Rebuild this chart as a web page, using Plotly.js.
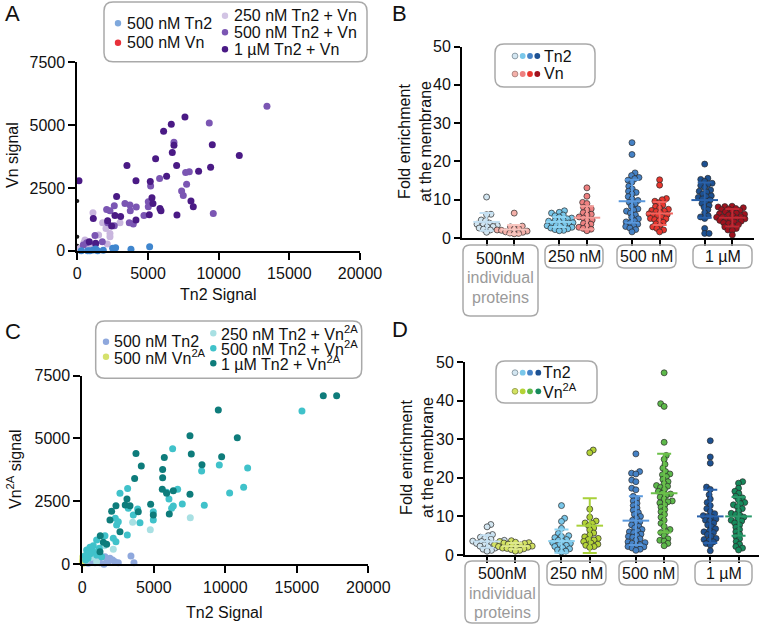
<!DOCTYPE html>
<html>
<head>
<meta charset="utf-8">
<script src="https://cdn.plot.ly/plotly-3.0.1.min.js"></script>
<style>html,body{margin:0;padding:0;background:#fff;}#chart{width:760px;height:626px;}</style>
</head>
<body>
<div id="chart"></div>
<script>
// ---------------- DATA ----------------
// Panel A: Tn2 signal (x) vs Vn signal (y)
const a500Tn2X = [283, 731, 896, 1132, 1297, 1438, 1839, 2500, 2712, 3796, 5117];
const a500Tn2Y = [0, 0, 0, 26, 66, 0, 13, 93, 119, 53, 159];
const a500VnX = [0, 0, 0, 0, 0, 0];
const a500VnY = [1975, 560, 200, 150, 100, 60];
const a250MixX = [1108, 1792, 2028, 2311, 2311, 1509, 2122, 3018, 472, 896, 542, 707, 189];
const a250MixY = [1510, 1113, 888, 689, 556, 623, 265, 1113, 318, 159, 424, 225, 93];
const a500MixX = [13417, 9337, 6838, 5824, 7923, 7664, 7734, 7380, 7498, 9620, 5188, 5023, 5023, 4716, 3725, 3372, 4174, 2075, 2311, 2617, 3749, 3678, 3961, 2146, 2617, 1250, 1769, 424, 1297, 660];
const a500MixY = [5751, 5088, 4320, 2875, 3140, 3114, 2650, 2372, 2200, 1484, 2571, 1948, 1749, 1405, 1815, 1882, 1736, 1643, 1590, 1789, 1590, 1113, 1060, 1113, 994, 610, 358, 225, 265, 318];
const a1uMixX = [118, 7616, 6650, 6107, 6838, 9550, 6720, 5541, 3513, 7027, 11460, 9432, 8583, 6319, 4150, 5164, 2782, 5282, 5353, 5848, 5919, 8041, 8206, 7050, 5093, 3065, 4150, 2664, 1132, 2146, 2429, 849, 1297];
const a1uMixY = [2783, 5327, 5035, 4757, 4200, 4213, 3909, 3657, 3392, 3392, 3790, 3326, 3167, 2968, 2783, 2756, 2160, 2107, 1882, 1683, 1590, 1974, 1749, 1418, 1431, 1365, 1219, 1405, 1285, 1193, 981, 358, 292];

// Panel C: Tn2 signal (x) vs Vn2A signal (y)
const c500Tn2X = [3403, 3613, 1585, 1935, 2284, 2517, 1236, 1515, 886, 1818, 653, 2121, 420, 1119, 1702];
const c500Tn2Y = [331, 66, 304, 238, 106, 66, 66, 0, 66, 106, 106, 172, 40, 198, 198];
const c500VnX = [40, 30, 60, 20];
const c500VnY = [300, 170, 40, 100];
const c250MixX = [7552, 4755, 3520, 1539, 2168, 303, 653, 1002];
const c250MixY = [1852, 1376, 1667, 741, 595, 172, 278, 106];
const c500MixX = [15361, 6317, 8345, 9581, 11562, 11282, 10303, 8531, 6993, 6364, 6247, 6061, 5897, 6667, 3170, 2634, 3217, 3870, 3567, 4033, 4965, 4965, 2308, 2401, 2517, 3147, 2168, 2354, 1585, 1002, 769, 536, 303, 769, 1189, 186, 536, 396, 233, 1002, 1352];
const c500MixY = [6086, 4591, 3704, 3942, 3823, 3056, 2831, 2342, 2395, 2315, 2223, 2593, 2858, 2977, 3016, 2818, 2223, 2196, 1958, 1654, 2090, 1760, 1826, 1561, 1693, 1164, 1032, 900, 1138, 966, 741, 675, 569, 503, 635, 344, 410, 238, 172, 370, 304];
const c1uMixX = [16853, 17786, 9511, 7529, 10839, 3753, 7622, 4126, 5734, 8368, 9744, 3660, 5618, 5618, 5594, 6364, 5897, 7529, 3124, 2354, 3002, 3336, 4779, 3916, 2051, 1935, 4965, 6084, 2634, 1259, 1469, 1702, 1236];
const c1uMixY = [6694, 6694, 6125, 5107, 5027, 4406, 4379, 3903, 4247, 3956, 4273, 3413, 3770, 3440, 2977, 2924, 2818, 2778, 2593, 2328, 2355, 2328, 2381, 2090, 2103, 1760, 1958, 1998, 1297, 1138, 873, 794, 503];

// Category groups (B and D)
const groupLabels = ['500nM', '250 nM', '500 nM', '1 µM'];

// Panel B: fold enrichment, Tn2 and Vn
const bTn2 = [
  [10.7, 6.2, 6.1, 4.7, 4.5, 3.9, 3.6, 3.5, 3.3, 3.0, 2.9, 2.6, 2.3, 2.1, 1.5],
  [7.1, 6.7, 6.5, 6.0, 5.8, 5.5, 5.2, 5.0, 4.8, 4.6, 4.4, 4.2, 4.0, 3.9, 3.7, 3.5, 3.3, 3.2, 3.0, 2.8, 2.6, 2.4, 2.2, 2.0, 1.9],
  [24.9, 21.8, 17.0, 16.3, 15.8, 15.5, 15.1, 14.6, 13.5, 12.8, 12.2, 11.9, 11.5, 10.8, 10.2, 9.8, 9.3, 8.9, 8.3, 7.6, 7.3, 7.0, 6.5, 6.0, 5.4, 5.0, 4.5, 4.2, 4.0, 3.6, 3.2, 3.0, 2.6, 2.2, 1.6],
  [19.3, 15.6, 15.3, 14.8, 14.3, 14.0, 13.7, 13.2, 12.5, 12.2, 12.0, 11.5, 11.0, 10.8, 10.6, 10.2, 9.9, 9.5, 9.0, 8.5, 8.0, 7.4, 6.6, 5.8, 5.5, 5.1, 2.5, 1.2, 1.2]
];
const bVn = [
  [6.5, 3.1, 2.9, 2.5, 2.3, 2.1, 2.0, 1.8, 1.6, 1.5, 1.3, 1.2, 1.1],
  [13.1, 10.9, 9.3, 9.0, 8.0, 7.6, 7.3, 6.6, 6.2, 6.0, 5.5, 5.2, 4.7, 4.5, 3.8, 3.6, 3.1, 2.8, 2.5, 2.3, 1.9],
  [15.2, 13.8, 10.3, 10.0, 9.6, 9.2, 8.6, 8.2, 7.8, 7.5, 7.2, 7.0, 6.9, 6.6, 6.3, 6.1, 6.0, 5.7, 5.4, 5.1, 5.0, 4.8, 4.5, 4.1, 3.7, 3.3, 2.9, 2.5, 2.1, 1.6],
  [8.3, 8.2, 8.1, 7.9, 7.7, 7.6, 7.4, 7.2, 7.0, 6.8, 6.5, 6.3, 6.2, 6.0, 5.8, 5.6, 5.5, 5.4, 5.2, 5.0, 4.9, 4.8, 4.6, 4.4, 4.2, 4.0, 3.8, 3.5, 3.2, 2.9, 2.5, 2.1, 2.0, 0.8]
];
const bTn2Mean = [4.2, 4.2, 9.6, 9.9];
const bTn2SD = [2.3, 1.3, 5.6, 4.6];
const bVnMean = [2.2, 5.3, 6.4, 5.3];
const bVnSD = [1.2, 3.0, 3.0, 2.3];

// Panel D: fold enrichment, Tn2 and Vn2A
const dTn2 = [
  [7.9, 7.3, 5.3, 5.0, 4.6, 4.3, 4.1, 3.8, 3.6, 3.5, 3.4, 3.2, 3.0, 2.9, 2.8, 2.6, 2.3, 2.1, 1.8, 1.5, 1.2, 1.0],
  [12.8, 9.5, 8.7, 6.9, 5.6, 5.0, 4.8, 4.5, 4.0, 3.8, 3.5, 3.2, 3.0, 2.7, 2.5, 2.2, 1.9, 1.6, 1.3, 1.0, 0.8],
  [26.2, 21.6, 21.2, 21.0, 19.4, 19.0, 17.3, 16.9, 15.2, 14.6, 14.0, 13.4, 12.8, 12.2, 11.6, 11.0, 10.5, 10.0, 9.5, 9.0, 8.6, 8.2, 7.8, 7.4, 7.0, 6.6, 6.2, 6.0, 5.8, 5.4, 5.0, 4.8, 4.6, 4.2, 3.8, 3.4, 3.2, 3.0, 2.7, 2.4, 2.2, 2.1, 1.8, 1.5, 1.2],
  [29.6, 25.4, 23.8, 17.6, 17.0, 15.6, 14.5, 13.6, 12.8, 12.0, 11.3, 10.7, 10.2, 10.0, 9.8, 9.3, 9.0, 8.8, 8.3, 7.8, 7.3, 6.8, 6.3, 6.0, 5.8, 5.3, 4.8, 4.3, 4.0, 3.8, 3.4, 3.0, 2.6, 1.1]
];
const dVn2A = [
  [3.7, 3.5, 3.3, 3.2, 3.1, 3.0, 2.8, 2.7, 2.6, 2.5, 2.3, 2.2, 2.1, 2.0, 1.8, 1.7, 1.6, 1.4, 1.2, 1.0],
  [27.2, 26.5, 11.9, 9.8, 8.8, 8.3, 8.2, 7.6, 7.0, 6.5, 5.7, 5.2, 4.7, 4.3, 4.0, 3.9, 3.5, 3.1, 2.8, 2.5, 2.2, 2.0],
  [47.2, 39.2, 38.5, 29.2, 25.8, 24.8, 23.5, 22.5, 21.6, 21.0, 20.8, 20.3, 19.6, 19.0, 18.5, 18.0, 17.8, 17.5, 17.0, 16.5, 16.0, 15.8, 15.5, 15.0, 14.5, 14.0, 13.8, 13.5, 13.0, 12.4, 11.8, 11.2, 10.5, 9.8, 9.0, 8.2, 7.4, 6.6, 6.0, 5.8, 5.0, 4.2, 3.8, 3.6, 3.0, 2.4],
  [19.0, 18.6, 17.3, 16.5, 16.0, 15.2, 14.8, 14.3, 13.6, 13.3, 13.0, 12.5, 12.0, 11.4, 10.8, 10.5, 10.3, 9.8, 9.3, 9.0, 8.8, 8.3, 7.8, 7.2, 6.6, 6.0, 5.4, 4.8, 4.2, 3.5, 2.8, 2.2, 1.8, 1.3]
];
const dTn2Mean = [3.5, 3.6, 8.9, 10.0];
const dTn2SD = [1.6, 3.0, 6.3, 6.9];
const dVnMean = [2.3, 7.6, 16.0, 10.0];
const dVnSD = [0.8, 7.1, 10.2, 5.0];

// ---------------- STYLE / LAYOUT HELPERS ----------------
const W = 760, H = 626;
const FONT = 'Liberation Sans, Arial, Helvetica, sans-serif';
const TXT = '#111';
const px = v => v / W;
const py = v => 1 - v / H;

const groupPos = [1, 2, 3, 4];
const pairOff = 0.19;

// colors
const tn2Pts = ['#d3e6f1', '#79c7ea', '#4582c6', '#1d5192'];
const tn2Bar = ['#c4e0f2', '#8dd3f2', '#5a98dc', '#2a62ab'];
const vnPts = ['#f4b0a9', '#ee8080', '#e8362e', '#a0121e'];
const vnBar = ['#f7c6c0', '#f39a96', '#f2625c', '#bf2a34'];
const v2aPts = ['#d3e262', '#b4d336', '#5db94a', '#168a5c'];
const v2aBar = ['#dfe98e', '#a9d13a', '#6cc04a', '#2a9a6a'];

// deterministic beeswarm (pixel space)
function swarm(vals, pxPerY, d) {
  const idx = vals.map((v, i) => i).sort((a, b) => vals[a] - vals[b]);
  const placed = [];
  const out = new Array(vals.length).fill(0);
  let flip = 1;
  for (const i of idx) {
    const y = vals[i] * pxPerY;
    const cands = [0];
    for (const p of placed) {
      const dy = Math.abs(p.y - y);
      if (dy < d) { const dx = Math.sqrt(d * d - dy * dy); cands.push(p.x + dx, p.x - dx); }
    }
    cands.sort((a, b) => (Math.abs(a) - Math.abs(b)) || (flip * (a - b)));
    let best = 0;
    for (const c of cands) {
      if (placed.every(p => (p.x - c) ** 2 + (p.y - y) ** 2 >= d * d - 1e-6)) { best = c; break; }
    }
    flip = -flip;
    placed.push({ x: best, y: y });
    out[i] = best;
  }
  return out;
}

const traces = [];
function scat(x, y, color, xa, ya, size) {
  traces.push({
    type: 'scatter', mode: 'markers', x: x, y: y, xaxis: xa, yaxis: ya, cliponaxis: false,
    hoverinfo: 'skip', showlegend: false,
    marker: { color: color, size: size || 7, line: { width: 0 } }
  });
}

// Panel A
scat(a500VnX, a500VnY, '#1a1a1a', 'x', 'y', 4);
scat(a250MixX, a250MixY, '#c9b6de', 'x', 'y');
scat(a500MixX, a500MixY, '#7b56b3', 'x', 'y');
scat(a1uMixX, a1uMixY, '#4a1a85', 'x', 'y');
scat(a500Tn2X, a500Tn2Y, '#3f86ce', 'x', 'y');
// Panel C
scat(c500VnX, c500VnY, '#d5e16c', 'x3', 'y3');
scat(c500Tn2X, c500Tn2Y, '#8fa8dd', 'x3', 'y3');
scat(c250MixX, c250MixY, '#a8e0e3', 'x3', 'y3');
scat(c500MixX, c500MixY, '#40c2ca', 'x3', 'y3');
scat(c1uMixX, c1uMixY, '#0e7c7b', 'x3', 'y3');

// swarm panels
function swarmPanel(seriesA, seriesB, colA, colB, barA, barB, meanA, sdA, meanB, sdB, xa, ya, pxPerX, pxPerY) {
  const sets = [[seriesA, colA, -pairOff], [seriesB, colB, pairOff]];
  for (const [series, cols, off] of sets) {
    series.forEach((vals, g) => {
      const offs = swarm(vals, pxPerY, 4.4);
      const xs = offs.map(o => groupPos[g] + off + o / pxPerX);
      traces.push({
        type: 'scatter', mode: 'markers', x: xs, y: vals, xaxis: xa, yaxis: ya, cliponaxis: false,
        hoverinfo: 'skip', showlegend: false,
        marker: { color: cols[g], size: 6, line: { color: '#2a2a2a', width: 0.7 } }
      });
    });
  }
  const bars = [[meanA, sdA, barA, -pairOff], [meanB, sdB, barB, pairOff]];
  for (const [m, s, cols, off] of bars) {
    m.forEach((mv, g) => {
      traces.push({
        type: 'scatter', mode: 'markers', x: [groupPos[g] + off], y: [mv], xaxis: xa, yaxis: ya,
        cliponaxis: false, hoverinfo: 'skip', showlegend: false,
        marker: { symbol: 'line-ew', size: 19, color: cols[g], line: { color: cols[g], width: 2 } },
        error_y: { type: 'data', array: [s[g]], visible: true, color: cols[g], thickness: 2, width: 7 }
      });
    });
  }
}
swarmPanel(bTn2, bVn, tn2Pts, vnPts, tn2Bar, vnBar, bTn2Mean, bTn2SD, bVnMean, bVnSD, 'x2', 'y2', 72.7, 3.84);
swarmPanel(dTn2, dVn2A, tn2Pts, v2aPts, tn2Bar, v2aBar, dTn2Mean, dTn2SD, dVnMean, dVnSD, 'x4', 'y4', 74.4, 3.86);

// ---------------- AXES ----------------
function ax(extra) {
  return Object.assign({
    showline: true, linecolor: '#000', linewidth: 2, ticks: 'outside', ticklen: 7, tickwidth: 2,
    tickcolor: '#000', showgrid: false, zeroline: false, fixedrange: true, tickformat: 'd',
    tickfont: { family: FONT, size: 16, color: TXT }
  }, extra);
}
const tickPositions = [];
groupPos.forEach(g => { tickPositions.push(g - pairOff, g + pairOff); });

const layout = {
  width: W, height: H, margin: { l: 0, r: 0, t: 0, b: 0 },
  paper_bgcolor: '#fff', plot_bgcolor: 'rgba(0,0,0,0)', showlegend: false,
  font: { family: FONT, size: 16, color: TXT },
  xaxis: ax({ domain: [px(77.3), px(360)], range: [0, 20000], tickvals: [0, 5000, 10000, 15000, 20000], anchor: 'y' }),
  yaxis: ax({ domain: [py(250.7), py(62.3)], range: [0, 7500], tickvals: [0, 2500, 5000, 7500], anchor: 'x' }),
  xaxis2: ax({ domain: [px(462), px(754)], range: [0.472, 4.488], tickvals: tickPositions, showticklabels: false, ticklen: 6, anchor: 'y2' }),
  yaxis2: ax({ domain: [py(238), py(46.5)], range: [0, 50], tickvals: [0, 10, 20, 30, 40, 50], ticklen: 6, anchor: 'x2' }),
  xaxis3: ax({ domain: [px(82.3), px(368.3)], range: [0, 20000], tickvals: [0, 5000, 10000, 15000, 20000], anchor: 'y3' }),
  yaxis3: ax({ domain: [py(564.3), py(375.5)], range: [0, 7500], tickvals: [0, 2500, 5000, 7500], anchor: 'x3' }),
  xaxis4: ax({ domain: [px(465), px(758.7)], range: [0.513, 4.461], tickvals: tickPositions, showticklabels: false, ticklen: 6, anchor: 'y4' }),
  yaxis4: ax({ domain: [py(555), py(362)], range: [0, 50], tickvals: [0, 10, 20, 30, 40, 50], ticklen: 6, anchor: 'x4' }),
  shapes: [], annotations: []
};

function rrect(x0, y0, x1, y1, r) {
  const X = v => (v / W).toFixed(5), Y = v => (1 - v / H).toFixed(5);
  return `M${X(x0 + r)},${Y(y0)} L${X(x1 - r)},${Y(y0)} Q${X(x1)},${Y(y0)} ${X(x1)},${Y(y0 + r)} ` +
    `L${X(x1)},${Y(y1 - r)} Q${X(x1)},${Y(y1)} ${X(x1 - r)},${Y(y1)} L${X(x0 + r)},${Y(y1)} ` +
    `Q${X(x0)},${Y(y1)} ${X(x0)},${Y(y1 - r)} L${X(x0)},${Y(y0 + r)} Q${X(x0)},${Y(y0)} ${X(x0 + r)},${Y(y0)} Z`;
}
function box(x0, y0, x1, y1, r) {
  layout.shapes.push({ type: 'path', xref: 'paper', yref: 'paper', path: rrect(x0, y0, x1, y1, r || 8),
    line: { color: '#a9a9a9', width: 1.5 }, fillcolor: 'rgba(0,0,0,0)' });
}
function dot(cx, cy, color, r, outline) {
  layout.shapes.push({ type: 'circle', xref: 'paper', yref: 'paper', xsizemode: 'pixel', ysizemode: 'pixel',
    xanchor: px(cx), yanchor: py(cy), x0: -r, x1: r, y0: -r, y1: r, fillcolor: color,
    line: { color: outline || color, width: outline ? 0.8 : 0 } });
}
function text(x, y, t, opts) {
  layout.annotations.push(Object.assign({ xref: 'paper', yref: 'paper', x: px(x), y: py(y), text: t,
    showarrow: false, xanchor: 'left', yanchor: 'middle', font: { family: FONT, size: 16, color: TXT } }, opts || {}));
}

// panel letters
text(3, 14, 'A', { font: { family: FONT, size: 22, color: TXT } });
text(390, 14, 'B', { font: { family: FONT, size: 22, color: TXT } });
text(3, 331, 'C', { font: { family: FONT, size: 22, color: TXT } });
text(390, 329, 'D', { font: { family: FONT, size: 22, color: TXT } });

// axis titles
text(218.6, 294, 'Tn2 Signal', { xanchor: 'center' });
text(13, 155, 'Vn signal', { xanchor: 'center', textangle: -90 });
text(225, 612, 'Tn2 Signal', { xanchor: 'center' });
text(14, 469, 'Vn<sup>2A</sup> signal', { xanchor: 'center', textangle: -90 });
text(415, 142, 'Fold enrichment<br>at the membrane', { xanchor: 'center', textangle: -90 });
text(417, 458, 'Fold enrichment<br>at the membrane', { xanchor: 'center', textangle: -90 });

// legend A
box(104, 2, 367, 61.7, 9);
dot(118, 23.3, '#7fa8dc', 3.2); text(125, 23.3, '500 nM Tn2');
dot(118, 42.7, '#e8303a', 3.2); text(125, 42.7, '500 nM Vn');
dot(225, 15.7, '#d2c4e4', 3.2); text(232, 15.7, '250 nM Tn2 + Vn');
dot(225, 32.3, '#7b56b3', 3.2); text(232, 32.3, '500 nM Tn2 + Vn');
dot(225, 49.3, '#4a1a85', 3.2); text(232, 49.3, '1 µM Tn2 + Vn');

// legend C
box(95.7, 321, 361.7, 378.3, 9);
dot(106, 341.7, '#8fa8dd', 3.2); text(112, 341.7, '500 nM Tn2');
dot(106, 356.7, '#d5e16c', 3.2); text(112, 356.7, '500 nM Vn<sup>2A</sup>');
dot(213.3, 333.3, '#a8e0e3', 3.2); text(219, 333.3, '250 nM Tn2 + Vn<sup>2A</sup>');
dot(213.3, 348.3, '#40c2ca', 3.2); text(219, 348.3, '500 nM Tn2 + Vn<sup>2A</sup>');
dot(213.3, 363.3, '#0e7c7b', 3.2); text(219, 363.3, '1 µM Tn2 + Vn<sup>2A</sup>');

// legend B
box(495, 44, 595, 87, 9);
const lgX = [515, 522.7, 530, 537.3];
lgX.forEach((x, i) => { dot(x, 56, tn2Pts[i], 2.9, i === 0 ? '#7a8a96' : null); dot(x, 74, vnPts[i], 2.9, i === 0 ? '#a07a76' : null); });
text(542, 56, 'Tn2'); text(542, 74, 'Vn');
// legend D
box(496, 361, 597, 403, 9);
const lgX2 = [515, 522.7, 530, 538.3];
lgX2.forEach((x, i) => { dot(x, 372.7, tn2Pts[i], 2.9, i === 0 ? '#7a8a96' : null); dot(x, 391.3, v2aPts[i], 2.9, i === 0 ? '#8a9440' : null); });
text(541, 372.7, 'Tn2'); text(541, 391.3, 'Vn<sup>2A</sup>');

// category boxes B
box(463, 245, 538, 316, 7);
text(500.5, 258, groupLabels[0], { xanchor: 'center' });
text(500.5, 277.5, 'individual', { xanchor: 'center', font: { family: FONT, size: 16, color: '#9a9a9a' } });
text(500.5, 297, 'proteins', { xanchor: 'center', font: { family: FONT, size: 16, color: '#9a9a9a' } });
box(545, 245, 603, 268, 7); text(574, 257, groupLabels[1], { xanchor: 'center' });
box(617, 245, 676, 268, 7); text(646.5, 257, groupLabels[2], { xanchor: 'center' });
box(693, 245, 752, 268, 7); text(722.5, 257, groupLabels[3], { xanchor: 'center' });

// category boxes D
box(465, 561, 539, 623, 7);
text(502, 573, groupLabels[0], { xanchor: 'center' });
text(502, 593, 'individual', { xanchor: 'center', font: { family: FONT, size: 16, color: '#9a9a9a' } });
text(502, 612, 'proteins', { xanchor: 'center', font: { family: FONT, size: 16, color: '#9a9a9a' } });
box(547, 561, 606, 585, 7); text(576.5, 573, groupLabels[1], { xanchor: 'center' });
box(619, 561, 678, 585, 7); text(648.5, 573, groupLabels[2], { xanchor: 'center' });
box(695, 561, 752, 585, 7); text(723.5, 573, groupLabels[3], { xanchor: 'center' });

Plotly.newPlot('chart', traces, layout, { staticPlot: true, displayModeBar: false });
</script>
</body>
</html>
